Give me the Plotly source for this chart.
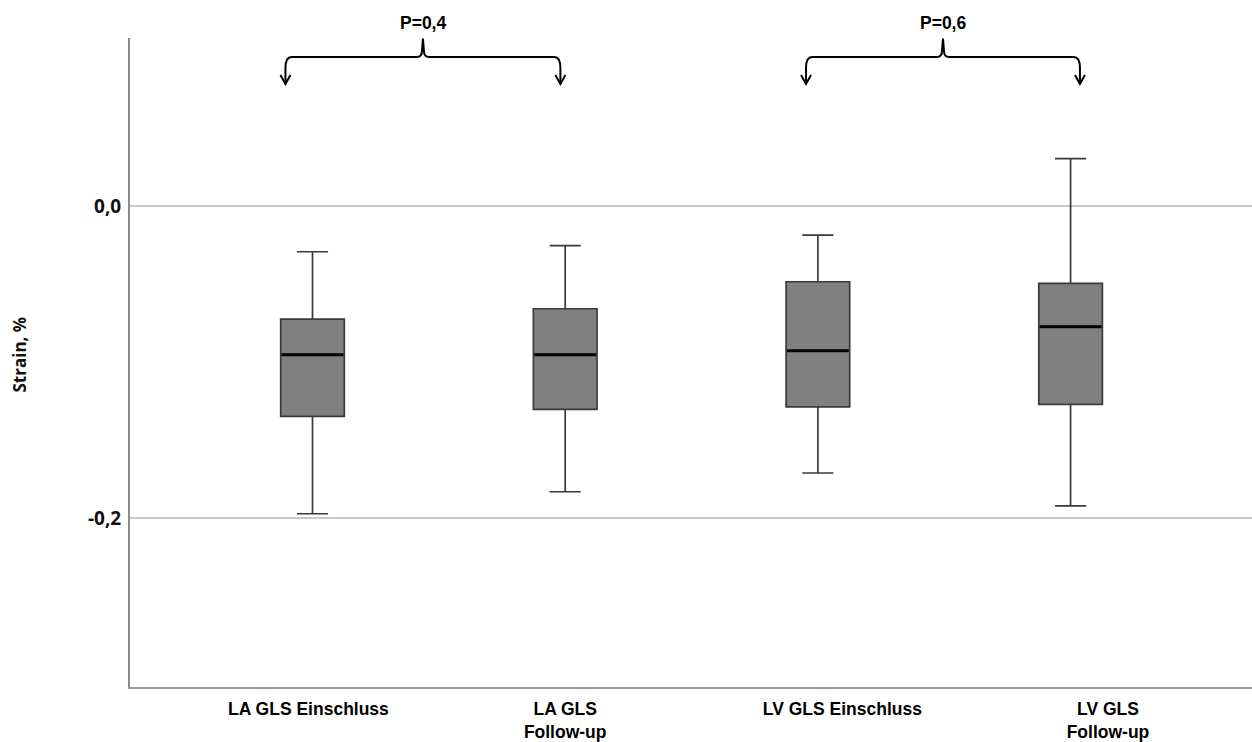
import plotly.graph_objects as go

# ---- data ----
CATEGORIES = ["LA GLS Einschluss", "LA GLS<br>Follow-up", "LV GLS Einschluss", "LV GLS<br>Follow-up"]
UPPER_WHISKER = [-0.0293, -0.0254, -0.0186, 0.0303]
Q3 = [-0.0724, -0.0658, -0.0485, -0.0495]
MEDIAN = [-0.0952, -0.0952, -0.0927, -0.0773]
Q1 = [-0.1347, -0.1302, -0.1286, -0.1271]
LOWER_WHISKER = [-0.1971, -0.1830, -0.1710, -0.1920]
Y_TICKS = [0.0, -0.2]
Y_TICK_TEXT = ["0,0", "-0,2"]
P_LABELS = ["P=0,4", "P=0,6"]

# ---- layout / styling constants ----
W, H = 1252, 742
ML, MR, MT, MB = 130, 0, 38, 55
X_RANGE = [-0.7222, 3.7179]
Y_RANGE = [-0.30804, 0.10759]
BOX_W = 0.2517
LABEL_OFFSETS = [-0.016, 0.0, 0.097, 0.148]   # tick label shift relative to box
BRACKETS = [(-0.107, 0.981), (1.953, 3.037)]  # arrow x-positions (axis units)

PX = (W - ML - MR) / (X_RANGE[1] - X_RANGE[0])   # pixels per x unit
plot_h = H - MT - MB

def py2paper(py):
    return (H - MB - py) / plot_h

xs = list(range(len(CATEGORIES)))

fig = go.Figure()
fig.add_trace(go.Box(
    x=xs, q1=Q1, median=MEDIAN, q3=Q3,
    lowerfence=LOWER_WHISKER, upperfence=UPPER_WHISKER,
    width=BOX_W, whiskerwidth=0.49,
    fillcolor="#808080", line=dict(color="#3a3a3a", width=1.7),
    boxpoints=False, hoverinfo="skip", showlegend=False,
))

# thick black median lines
mx, my = [], []
for i, m in zip(xs, MEDIAN):
    mx += [i - BOX_W / 2 + 0.004, i + BOX_W / 2 - 0.004, None]
    my += [m, m, None]
fig.add_trace(go.Scatter(x=mx, y=my, mode="lines",
                         line=dict(color="#000000", width=3),
                         hoverinfo="skip", showlegend=False))

# brackets with arrows and p-values
shapes = []
annotations = []
for (xl, xr), lab in zip(BRACKETS, P_LABELS):
    xm = (xl + xr) / 2
    d = lambda p: p / PX
    yh = py2paper(57)
    ytip = py2paper(84)
    ycurve = py2paper(68)
    ypeak = py2paper(38.5)
    ycusp = py2paper(51)
    yhead = py2paper(75)
    path = (
        f"M {xl},{ytip} L {xl},{ycurve} Q {xl},{yh} {xl + d(6)},{yh} "
        f"L {xm - d(6)},{yh} Q {xm - d(1)},{yh} {xm - d(1)},{ycusp} "
        f"L {xm},{ypeak} L {xm + d(1)},{ycusp} Q {xm + d(1)},{yh} {xm + d(6)},{yh} "
        f"L {xr - d(6)},{yh} Q {xr},{yh} {xr},{ycurve} L {xr},{ytip}"
    )
    shapes.append(dict(type="path", path=path, xref="x", yref="paper",
                       line=dict(color="#000000", width=2), layer="above"))
    for xa in (xl, xr):
        head = f"M {xa - d(5)},{yhead} L {xa},{ytip} L {xa + d(5)},{yhead}"
        shapes.append(dict(type="path", path=head, xref="x", yref="paper",
                           line=dict(color="#000000", width=2), layer="above"))
    annotations.append(dict(x=xm, y=py2paper(23), xref="x", yref="paper",
                            text=lab, showarrow=False,
                            font=dict(family="Liberation Sans, Arial", size=17.5,
                                      color="#000", weight="bold"),
                            xanchor="center", yanchor="middle"))

annotations.append(dict(x=(19.5 - ML) / (W - ML - MR), y=py2paper(355),
                        xref="paper", yref="paper",
                        text="Strain, %", textangle=-90, showarrow=False,
                        font=dict(family="Open Sans", size=17, color="#111", weight="bold"),
                        xanchor="center", yanchor="middle"))

fig.update_layout(
    width=W, height=H,
    margin=dict(l=ML, r=MR, t=MT, b=MB, pad=0, autoexpand=False),
    paper_bgcolor="white", plot_bgcolor="white",
    shapes=shapes, annotations=annotations,
    showlegend=False,
    xaxis=dict(range=X_RANGE, showgrid=False, zeroline=False, automargin=False,
               showline=True, linecolor="#999999", linewidth=2,
               tickvals=[i + o for i, o in zip(xs, LABEL_OFFSETS)],
               ticktext=CATEGORIES,
               tickfont=dict(family="Liberation Sans, Arial", size=17.5, color="#000",
                             weight="bold"),
               ticks="", ticklabelstandoff=5),
    yaxis=dict(range=Y_RANGE, tickvals=Y_TICKS, ticktext=Y_TICK_TEXT, automargin=False,
               showgrid=True, gridcolor="#c8c8c8", gridwidth=1.5, zeroline=False,
               showline=True, linecolor="#8a8a8a", linewidth=2,
               tickfont=dict(family="Open Sans", size=19, color="#111", weight="bold"),
               ticks="", ticklabelstandoff=3),
)

fig.write_html(
    "out.html", config={"displayModeBar": False},
    post_script=("document.documentElement.style.margin='0px';"
                 "document.documentElement.style.overflow='hidden';"
                 "document.body.style.margin='0px';document.body.style.padding='0px';"
                 "document.body.style.overflow='hidden';window.scrollTo(0,0);"),
)
